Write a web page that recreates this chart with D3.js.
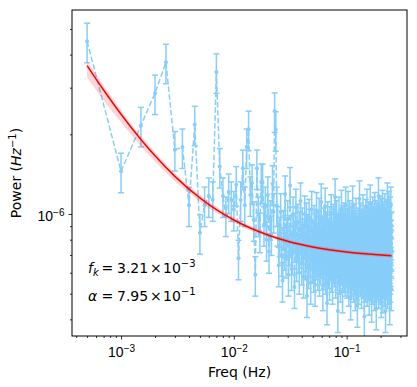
<!DOCTYPE html>
<html>
<head>
<meta charset="utf-8">
<script src="https://cdn.jsdelivr.net/npm/d3@7"></script>
<style>
	body { margin: 0; background: #fff; }
	svg { font-family: "DejaVu Sans", sans-serif; }
</style>
</head>
<body>
<svg id="chart" width="417" height="387"></svg>
<script>
// frequency bins are k * freqStep, k = 1..power.length
const freqStep = 0.0005

// power in units of 1e-7 Hz^-1, one value per bin
const power = [
	44.9, 14.5, 21.6, 28.6, 37.4, 17.5, 17.9, 10.8, 21.8, 8.5,
	10.8, 11.7, 11.3, 34.4, 15.1, 11.7, 9.9, 12.1, 11.3, 10.4,
	12.9, 6.8, 11.3, 14.9, 10.8, 17.9, 20.9, 11.8, 13.1, 9.5,
	5.9, 14.9, 9.9, 8.6, 13.2, 13.2, 9.1, 10.8, 8.0, 11.8,
	7.2, 9.6, 8.4, 13.0, 10.2, 24.5, 20.8, 10.8,
	9.1, 6.4, 8.3, 10.2, 7.0, 5.6, 8.8, 7.4, 11.9, 6.9,
	8.1, 9.6, 5.9, 7.7, 12.8, 8.4, 6.2, 7.1, 9.9, 8.6,
	5.3, 7.9, 10.6, 6.7, 8.0, 9.3, 7.2, 6.0, 8.7, 11.2,
	7.5, 6.5, 9.0, 7.8, 5.8, 8.2, 10.0, 6.8, 7.3, 9.4,
	4.9, 8.5, 7.6, 6.3, 9.7, 8.9, 7.0, 5.5, 8.1, 10.4,
	7.4, 6.6,
	8.0, 6.1, 9.2, 7.5, 5.4, 8.6, 7.0, 10.3, 6.8, 7.9,
	6.2, 8.8, 7.3, 9.8, 5.9, 7.6, 8.3, 6.5, 11.1, 7.1,
	6.9, 8.4, 5.2, 7.7, 9.0, 6.4, 8.1, 7.2, 10.7, 6.0,
	7.8, 8.7, 6.6, 4.6, 7.4, 9.5, 7.0, 6.3, 8.2, 7.9,
	5.7, 9.1, 7.5, 6.8, 8.5, 10.1, 6.1, 7.3, 8.0, 5.5,
	7.6, 9.3, 6.7, 7.1, 8.9, 6.4, 7.7, 11.6, 7.0, 5.8,
	8.3, 6.9, 9.6, 7.2, 6.2, 8.1, 4.3, 7.4, 8.6, 6.6,
	9.9, 7.8, 6.0, 8.4, 7.1, 5.6, 8.8, 7.5, 6.5, 10.5,
	7.3, 6.8, 8.0, 5.1, 9.2, 7.0, 6.3, 8.6, 7.7, 9.4,
	6.1, 7.9, 8.2, 5.9, 7.2, 10.8, 6.7, 7.4, 8.5, 6.4,
	7.6, 5.8, 8.9, 6.5, 7.2, 10.4, 6.1, 7.9, 5.4, 8.3, 6.9, 7.4, 9.6, 6.3, 7.0, 8.1, 4.8, 7.7, 6.6, 9.1, 7.3, 5.9, 8.5, 6.8, 7.5,
	10.9, 6.2, 7.1, 8.7, 5.6, 7.8, 6.4, 9.3, 7.0, 6.0, 8.2, 7.4, 5.2, 8.8, 6.7, 7.6, 9.8, 6.3, 7.2, 5.7, 8.4, 6.9, 7.9, 4.5, 8.0,
	6.6, 7.3, 9.0, 6.1, 7.7, 5.5, 8.6, 7.0, 6.4, 11.4, 7.5, 6.8, 8.1, 5.9, 7.2, 9.4, 6.2, 7.8, 6.7, 8.3, 5.3, 7.1, 8.9, 6.5, 7.4,
	6.0, 8.5, 7.6, 10.1, 6.3, 7.0, 5.8, 8.0, 6.9, 7.3, 9.2, 4.1, 7.7, 6.6, 8.4, 7.1, 5.6, 8.8, 6.4, 7.5, 9.7, 6.1, 7.9, 5.9, 8.2,
	7.2, 6.7, 10.6, 5.4, 7.4, 8.1, 6.2, 7.8, 9.0, 6.8, 5.7, 8.6, 7.0, 6.5, 9.5, 7.3, 5.0, 8.3, 7.6, 6.3, 8.9, 7.1, 6.0, 11.0, 7.5,
	6.4, 8.0, 5.8, 7.7, 9.3, 6.9, 7.2, 4.7, 8.5, 6.6, 7.9, 8.7, 6.1, 7.4, 5.5, 9.9, 6.8, 7.0, 8.2, 5.9, 7.6, 6.3, 9.1, 7.3, 6.7,
	8.4, 5.2, 7.8, 6.5, 10.3, 7.1, 6.0, 8.0, 7.4, 5.6, 8.8, 6.9, 7.5, 9.6, 6.2, 4.4, 7.7, 8.3, 6.6, 7.2, 5.8, 9.4, 7.0, 6.4, 8.6,
	7.3, 6.1, 9.0, 5.7, 7.9, 8.1, 6.8, 11.7, 7.2, 5.3, 8.4, 6.7, 7.6, 9.2, 6.3, 7.0, 5.9, 8.7, 7.4, 6.5, 10.0, 7.1, 5.5, 8.2, 6.9,
	7.8, 6.2, 8.9, 7.5, 4.9, 8.0, 6.6, 7.3, 9.8, 6.0, 7.7, 8.5, 5.6, 7.1, 6.4, 10.5, 7.9, 6.8, 5.1, 8.3, 7.2, 6.1, 9.3, 7.6, 6.7,
	8.6, 5.8, 7.4, 6.9, 9.5, 7.0, 6.3, 8.1, 5.4, 7.8, 10.2, 6.5, 7.3, 8.8, 6.0, 7.6, 4.3, 8.4, 7.1, 6.6, 9.0, 7.5, 5.9, 8.0, 6.8,
	7.2, 9.7, 6.2, 7.9, 5.7, 8.5, 6.4, 7.0, 11.2, 6.9, 7.4, 5.3, 8.2, 6.7, 7.7, 9.1, 6.1, 7.3, 5.8, 8.9, 6.5, 7.6, 10.4, 6.3, 7.1,
	8.3, 5.5, 7.5, 6.8, 9.4, 7.2, 4.6, 8.0, 6.6, 7.8, 9.9, 6.0, 7.3, 5.6, 8.6, 7.0, 6.4, 10.8, 7.7, 6.2, 8.1, 5.2, 7.4, 6.9, 8.7
]
// error bars, as a fraction of each power value
const relErr = 0.17

// fitted model curve and its uncertainty band (same units as power)
const fitFreq = [5e-4, 7e-4, 1e-3, 1.5e-3, 2e-3, 3e-3, 5e-3, 7e-3, 1e-2, 2e-2, 3e-2, 5e-2, 0.1, 0.25]
const fitPower = [36.35, 29.40, 23.81, 19.11, 16.58, 13.87, 11.50, 10.38, 9.49, 8.33, 7.89, 7.51, 7.19, 6.96]
const bandLow = [32.8, 26.9, 22.2, 18.0, 15.8, 13.3, 11.15, 10.1, 9.27, 8.18, 7.77, 7.40, 7.08, 6.85]
const bandHigh = [37.8, 30.5, 24.6, 19.7, 17.1, 14.25, 11.8, 10.65, 9.70, 8.49, 8.02, 7.63, 7.31, 7.08]

// axis ticks
const xMajor = [1e-3, 1e-2, 1e-1]
const xMajorExp = ['\u22123', '\u22122', '\u22121']
const xMinor = [4e-4, 5e-4, 6e-4, 7e-4, 8e-4, 9e-4, 2e-3, 3e-3, 4e-3, 5e-3, 6e-3, 7e-3, 8e-3, 9e-3,
	2e-2, 3e-2, 4e-2, 5e-2, 6e-2, 7e-2, 8e-2, 9e-2, 2e-1, 3e-1]
const yMajor = [10]
const yMajorExp = ['\u22126']
const yMinor = [4, 5, 6, 7, 8, 9, 20, 30, 40, 50]

// fit parameters printed on the chart
const fkText = '3.21', fkExp = '\u22123'
const alphaText = '7.95', alphaExp = '\u22121'

const margin = { top: 10, right: 10, bottom: 51, left: 72 }
const W = 417, H = 387
const width = W - margin.left - margin.right
const height = H - margin.top - margin.bottom

const svg = d3.select('#chart')
const g = svg.append('g')
	.attr('transform', 'translate(' + margin.left + ',' + margin.top + ')')

const x = d3.scaleLog().domain([3.674e-4, 0.3428]).range([0, width])
const y = d3.scaleLog().domain([3.462, 58.94]).range([height, 0])

g.append('clipPath').attr('id', 'clip')
	.append('rect').attr('width', width).attr('height', height)

const plot = g.append('g').attr('clip-path', 'url(#clip)')
const data = power.map((p, i) => ({ f: (i + 1) * freqStep, p: p }))
const blue = '#87cefa'

// dashed line through the points
plot.append('path')
	.datum(data)
	.attr('fill', 'none')
	.attr('stroke', blue)
	.attr('stroke-width', 1.5)
	.attr('stroke-dasharray', '5.5,2.4')
	.attr('d', d3.line().x(d => x(d.f)).y(d => y(d.p)))

// error bars with caps
const eb = plot.append('g').attr('stroke', blue).attr('stroke-width', 1.5)
data.forEach(d => {
	const cx = x(d.f)
	const y1 = y(d.p * (1 + relErr)), y2 = y(d.p * (1 - relErr))
	eb.append('line').attr('x1', cx).attr('x2', cx).attr('y1', y1).attr('y2', y2)
	eb.append('line').attr('x1', cx - 3).attr('x2', cx + 3).attr('y1', y1).attr('y2', y1)
	eb.append('line').attr('x1', cx - 3).attr('x2', cx + 3).attr('y1', y2).attr('y2', y2)
})

plot.append('g').selectAll('circle')
	.data(data).join('circle')
	.attr('cx', d => x(d.f))
	.attr('cy', d => y(d.p))
	.attr('r', 2)
	.attr('fill', blue)

// fit band and curve
const fit = fitFreq.map((f, i) => ({ f: f, p: fitPower[i], lo: bandLow[i], hi: bandHigh[i] }))
plot.append('path')
	.datum(fit)
	.attr('fill', 'red')
	.attr('fill-opacity', 0.17)
	.attr('d', d3.area().curve(d3.curveMonotoneX)
		.x(d => x(d.f)).y0(d => y(d.lo)).y1(d => y(d.hi)))

plot.append('path')
	.datum(fit)
	.attr('fill', 'none')
	.attr('stroke', 'red')
	.attr('stroke-width', 1.5)
	.attr('d', d3.line().curve(d3.curveMonotoneX).x(d => x(d.f)).y(d => y(d.p)))

// axes
function powerLabel(sel, exps) {
	sel.each(function (d, i) {
		const t = d3.select(this).text('')
		t.append('tspan').text('10')
		t.append('tspan').attr('font-size', '10px').attr('dy', '-0.45em').text(exps[i])
	})
}

const xAxis = g.append('g')
	.attr('transform', 'translate(0,' + height + ')')
	.call(d3.axisBottom(x).tickValues(xMajor).tickSize(3.5).tickPadding(4))
xAxis.selectAll('text').attr('font-size', '14px').attr('fill', '#000').attr('dy', '0.95em')
	.call(powerLabel, xMajorExp)
g.append('g')
	.attr('transform', 'translate(0,' + height + ')')
	.call(d3.axisBottom(x).tickValues(xMinor).tickSize(2).tickFormat(''))

const yAxis = g.append('g')
	.call(d3.axisLeft(y).tickValues(yMajor).tickSize(3.5).tickPadding(4))
yAxis.selectAll('text').attr('font-size', '14px').attr('fill', '#000').attr('dy', '0.45em')
	.call(powerLabel, yMajorExp)
g.append('g')
	.call(d3.axisLeft(y).tickValues(yMinor).tickSize(2).tickFormat(''))

g.selectAll('.domain').remove()
g.selectAll('.tick line').attr('stroke', '#000').attr('stroke-width', 0.8)

// frame
g.append('rect')
	.attr('width', width).attr('height', height)
	.attr('fill', 'none').attr('stroke', '#000').attr('stroke-width', 1)

// axis titles
svg.append('text')
	.attr('x', margin.left + width / 2).attr('y', 377)
	.attr('text-anchor', 'middle').attr('font-size', '14px')
	.text('Freq (Hz)')

const yl = svg.append('text')
	.attr('transform', 'translate(21,' + (margin.top + height / 2) + ') rotate(-90)')
	.attr('text-anchor', 'middle').attr('font-size', '14px')
yl.append('tspan').text('Power (')
yl.append('tspan').attr('font-style', 'italic').text('Hz')
yl.append('tspan').attr('font-size', '10px').attr('dy', '-0.5em').text('\u22121')
yl.append('tspan').attr('dy', '0.36em').text(')')

// fit parameter annotations
function paramText(yPos, sym, sub, val, exp) {
	const t = svg.append('text').attr('x', 88).attr('y', yPos).attr('font-size', '14px')
	t.append('tspan').attr('font-style', 'italic').text(sym)
	if (sub) t.append('tspan').attr('font-style', 'italic').attr('font-size', '10px').attr('dy', 3).text(sub)
	t.append('tspan').attr('x', 101.5).attr('dy', sub ? -3 : 0).text('=')
	t.append('tspan').attr('x', 117).text(val)
	t.append('tspan').attr('x', 150).text('\u00d7')
	t.append('tspan').attr('x', 163).text('10')
	t.append('tspan').attr('font-size', '10px').attr('dy', -6).text(exp)
}
paramText(273, 'f', 'k', fkText, fkExp)
paramText(301, '\u03b1', null, alphaText, alphaExp)
</script>
</body>
</html>
